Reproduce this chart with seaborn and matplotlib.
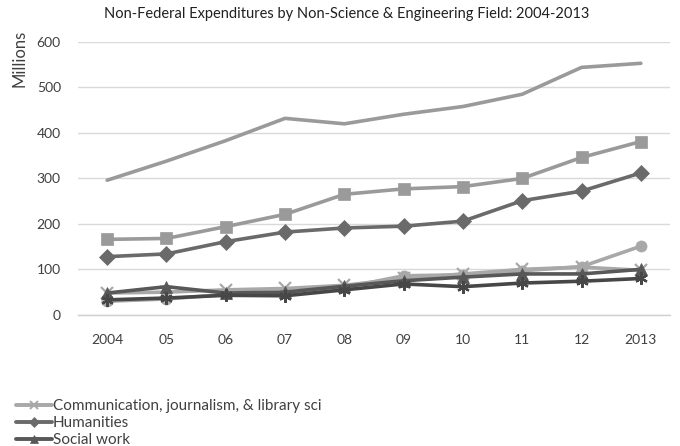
import numpy as np
import pandas as pd
import matplotlib
matplotlib.use("Agg")
import matplotlib.pyplot as plt
import seaborn as sns
from matplotlib.lines import Line2D

years = ["2004", "05", "06", "07", "08", "09", "10", "11", "12", "2013"]

all_non_se = [296, 338, 383, 432, 420, 441, 458, 485, 544, 553]
education = [166, 168, 194, 221, 265, 277, 282, 300, 346, 381]
humanities = [128, 134, 161, 182, 191, 195, 206, 251, 272, 312]
visual_performing_arts = [30, 35, 45, 48, 60, 86, 88, 97, 106, 151]
communication = [48, 50, 55, 58, 65, 80, 90, 100, 105, 98]
social_work = [48, 62, 48, 50, 63, 75, 83, 90, 90, 100]
business = [33, 37, 43, 42, 55, 68, 62, 70, 74, 80]

series = [
    # name, values, colour, marker, shown in legend
    ("All non-S&E fields", all_non_se, "#9a9a9a", None, False),
    ("Education", education, "#9a9a9a", "s", False),
    ("Visual and performing arts", visual_performing_arts, "#a8a8a8", "o", False),
    ("Communication, journalism, & library sci", communication, "#a8a8a8", "x", True),
    ("Humanities", humanities, "#6a6a6a", "D", True),
    ("Social work", social_work, "#585858", "^", True),
    ("Business and management", business, "#474747", (6, 2, 0), False),
]

sns.set_style("white")
plt.rcParams["font.family"] = ["Lato", "DejaVu Sans"]

fig = plt.figure(figsize=(6.8, 4.46), dpi=100)
ax = fig.add_axes([0.114, 0.294, 0.872, 0.612])

idx = np.arange(len(years))
for name, vals, col, mk, _ in series:
    df = pd.DataFrame({"x": idx, "y": vals})
    kw = dict(marker=mk, markersize=8 if mk not in ("x", (6, 2, 0)) else 9,
              markeredgewidth=1.6 if mk in ("x", (6, 2, 0)) else 0.5,
              markeredgecolor=col, markerfacecolor=col) if mk is not None else {}
    sns.lineplot(data=df, x="x", y="y", ax=ax, color=col, linewidth=2.6,
                 legend=False, **kw)

ax.set_xlim(-0.5, 9.5)
ax.set_ylim(0, 600)
ax.set_yticks(range(0, 601, 100))
ax.set_xticks(idx)
ax.set_xticklabels(years)
ax.set_xticks(np.arange(-0.5, 9.6, 1), minor=True)
ax.tick_params(axis="x", which="major", length=0, pad=14, labelsize=10, labelcolor="#404040")
ax.tick_params(axis="x", which="minor", length=5, width=1, color="#d0d0d0", direction="out")
ax.tick_params(axis="y", length=0, pad=12, labelsize=10, labelcolor="#404040")
ax.yaxis.grid(True, color="#d9d9d9", linewidth=1)
ax.set_axisbelow(True)
for s in ("left", "right", "top"):
    ax.spines[s].set_visible(False)
ax.spines["bottom"].set_color("#d0d0d0")
ax.spines["bottom"].set_linewidth(1)
ax.set_xlabel("")
ax.set_ylabel("Millions", fontsize=12, color="#404040")
ax.yaxis.set_label_coords(-0.084, 0.94)

fig.suptitle("Non-Federal Expenditures by Non-Science & Engineering Field: 2004-2013",
             x=0.51, y=0.985, fontsize=10.5, color="#202020")

handles = []
labels = []
for name, vals, col, mk, show in series:
    if show:
        handles.append(Line2D([], [], color=col, linewidth=2.8, marker=mk,
                              markersize=5.5, markeredgecolor=col, markerfacecolor=col,
                              markeredgewidth=1.4 if mk == "x" else 0.5))
        labels.append(name)
fig.legend(handles, labels, loc="upper left", bbox_to_anchor=(0.014, 0.118),
           frameon=False, fontsize=11, handlelength=2.4, handletextpad=0.05,
           labelspacing=0.18, borderaxespad=0, labelcolor="#404040")

fig.savefig("out.png", dpi=100)
